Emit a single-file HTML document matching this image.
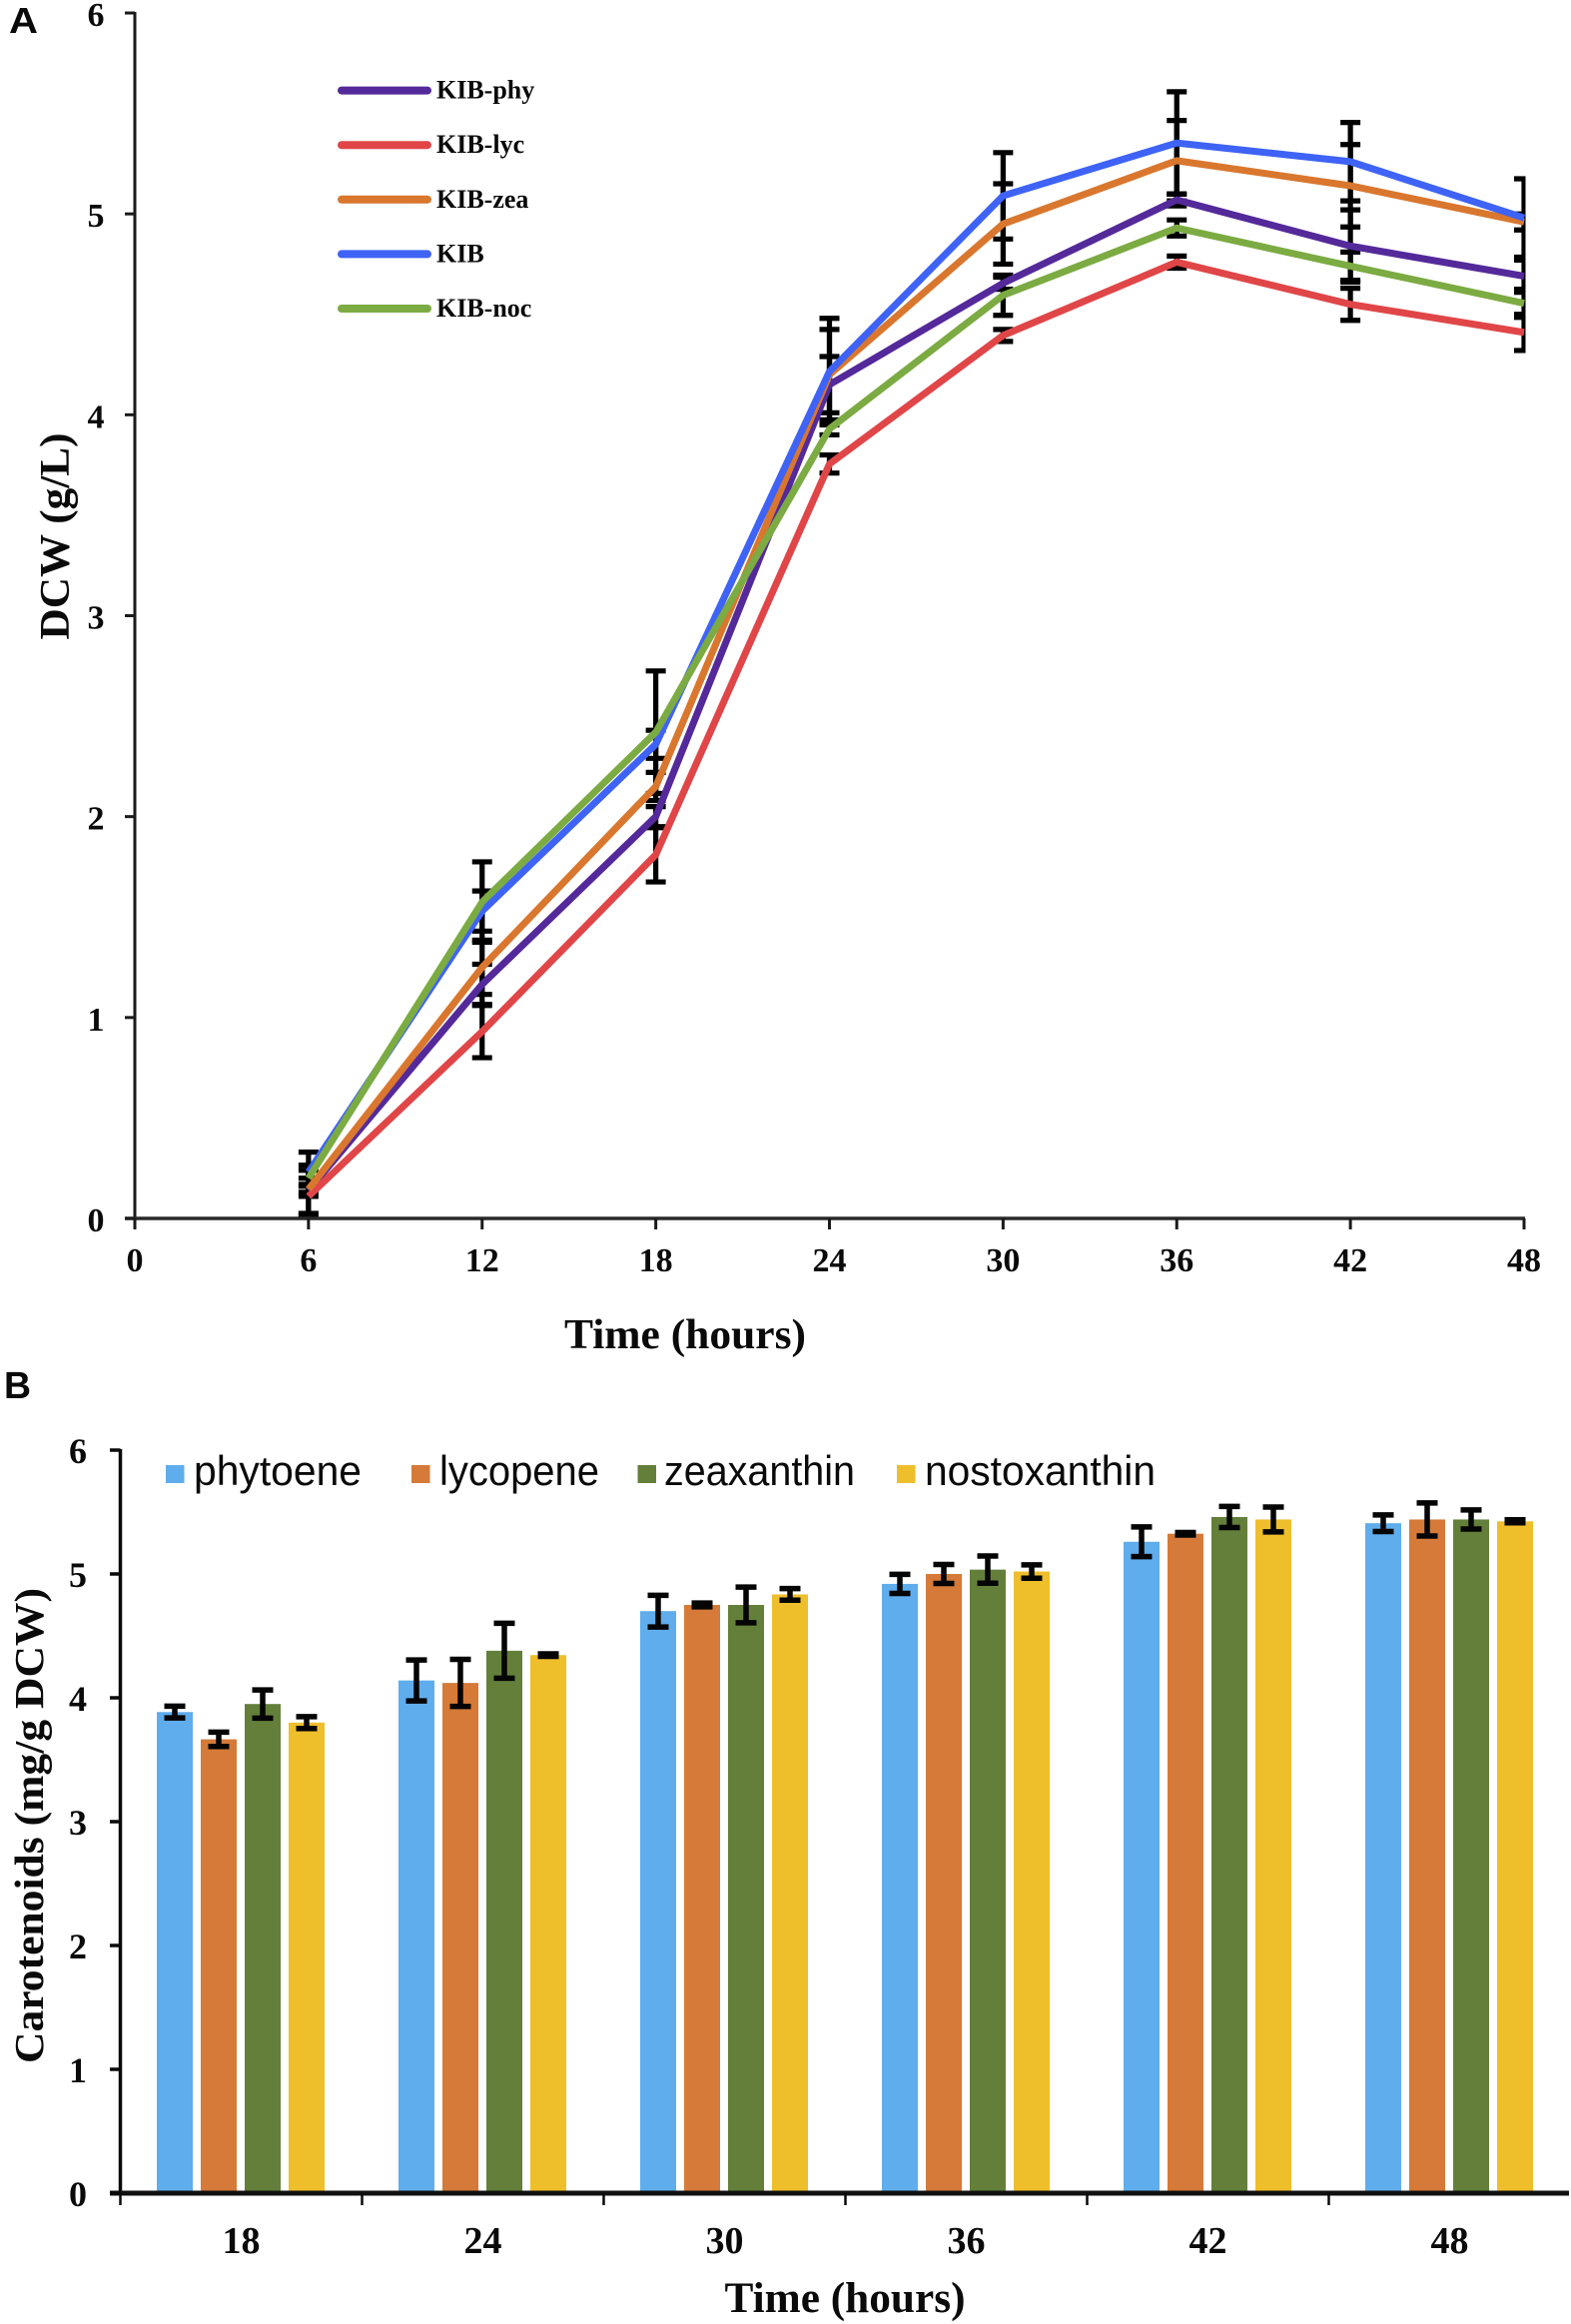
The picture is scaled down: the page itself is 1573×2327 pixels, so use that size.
<!DOCTYPE html>
<html lang="en">
<head>
<meta charset="utf-8">
<title>DCW growth and carotenoid content over time</title>
<style>
html,body{margin:0;padding:0;background:#fff;}
svg{display:block;}
.serif{font-family:"Liberation Serif",serif;font-weight:bold;fill:#0a0a0a;}
.sans{font-family:"Liberation Sans",sans-serif;fill:#0a0a0a;}
</style>
</head>
<body>
<svg id="figure" xmlns="http://www.w3.org/2000/svg" width="1573" height="2327" viewBox="0 0 1573 2327">
  <rect x="0" y="0" width="1573" height="2327" fill="#ffffff"/>
  <defs>
    <clipPath id="plot-a-clip"><rect x="0" y="0" width="1527.5" height="1300"/></clipPath>
  </defs>
  <text class="sans" font-weight="bold" font-size="36" x="9" y="33" textLength="29" lengthAdjust="spacingAndGlyphs">A</text>
  <text class="sans" font-weight="bold" font-size="38" x="4" y="1400" textLength="27" lengthAdjust="spacingAndGlyphs">B</text>

  <g id="chart-a">
    <g id="a-errors" clip-path="url(#plot-a-clip)"></g>
    <g id="a-lines" clip-path="url(#plot-a-clip)"></g>
    <g id="a-axes"></g>
    <g id="a-legend"></g>
    <text class="serif" font-size="42" x="686" y="1350" text-anchor="middle" textLength="242" lengthAdjust="spacingAndGlyphs">Time (hours)</text>
    <text class="serif" font-size="42" text-anchor="middle" transform="translate(69 537) rotate(-90)" textLength="207" lengthAdjust="spacingAndGlyphs">DCW (g/L)</text>
  </g>

  <g id="chart-b">
    <g id="b-bars"></g>
    <g id="b-errors"></g>
    <g id="b-axes"></g>
    <g id="b-legend"></g>
    <text class="serif" font-size="43" x="846" y="2315" text-anchor="middle" textLength="241" lengthAdjust="spacingAndGlyphs">Time (hours)</text>
    <text class="serif" font-size="41" text-anchor="middle" transform="translate(43 1828) rotate(-90)" textLength="476" lengthAdjust="spacingAndGlyphs">Carotenoids (mg/g DCW)</text>
  </g>
</svg>

<script>
// Panel A data
const hoursA = [6, 12, 18, 24, 30, 36, 42, 48];
const xTicksA = [0, 6, 12, 18, 24, 30, 36, 42, 48];
const yTicksA = [0, 1, 2, 3, 4, 5, 6];
const namesA = ['KIB-phy', 'KIB-lyc', 'KIB-zea', 'KIB', 'KIB-noc'];
const kibPhy = [0.14, 1.165, 2.00, 4.15, 4.655, 5.07, 4.84, 4.69];
const kibLyc = [0.11, 0.93, 1.81, 3.755, 4.395, 4.76, 4.55, 4.41];
const kibZea = [0.145, 1.25, 2.15, 4.20, 4.95, 5.265, 5.14, 4.96];
const kibWt = [0.23, 1.53, 2.36, 4.215, 5.09, 5.353, 5.26, 4.98];
const kibNoc = [0.20, 1.575, 2.42, 3.93, 4.595, 4.93, 4.74, 4.555];
const kibPhyErr = [0.03, 0.10, 0.05, 0.14, 0.03, 0.03, 0.18, 0.08];
const kibLycErr = [0.09, 0.13, 0.135, 0.045, 0.03, 0.03, 0.08, 0.09];
const kibZeaErr = [0.12, 0.135, 0.07, 0.225, 0.20, 0.20, 0.205, 0.04];
const kibWtErr = [0.10, 0.10, 0.07, 0.265, 0.215, 0.255, 0.195, 0.195];
const kibNocErr = [0.04, 0.20, 0.305, 0.03, 0.10, 0.04, 0.07, 0.07];

// Panel B data
const hoursB = [18, 24, 30, 36, 42, 48];
const yTicksB = [0, 1, 2, 3, 4, 5, 6];
const namesB = ['phytoene', 'lycopene', 'zeaxanthin', 'nostoxanthin'];
const phytoene = [3.885, 4.14, 4.70, 4.92, 5.26, 5.41];
const lycopene = [3.665, 4.12, 4.75, 5.00, 5.325, 5.44];
const zeaxanthin = [3.95, 4.38, 4.75, 5.035, 5.46, 5.44];
const nostoxanthin = [3.80, 4.345, 4.835, 5.02, 5.44, 5.425];
const phytoeneErr = [0.047, 0.165, 0.128, 0.077, 0.12, 0.067];
const lycopeneErr = [0.058, 0.19, 0.015, 0.077, 0.01, 0.134];
const zeaxanthinErr = [0.114, 0.222, 0.144, 0.11, 0.085, 0.077];
const nostoxanthinErr = [0.048, 0.01, 0.047, 0.054, 0.1, 0.012];

const NS = 'http://www.w3.org/2000/svg';
function mk(tag, parent) {
  const el = document.createElementNS(NS, tag);
  parent.appendChild(el);
  return el;
}
function put(el, props) {
  for (const k in props) el.setAttribute(k, props[k]);
}
function slug(s) {
  return String(s).toLowerCase().replace(/[^a-z0-9]+/g, '-');
}

/* ---------- Panel A ---------- */
const xA = t => 135 + (t / 48) * 1391;
const yA = v => 1220 - (v / 6) * 1207;
const valuesA = [kibPhy, kibLyc, kibZea, kibWt, kibNoc];
const errorsA = [kibPhyErr, kibLycErr, kibZeaErr, kibWtErr, kibNocErr];
const colorsA = ['#54299a', '#e04648', '#d9772e', '#3e63f6', '#7bab42'];

const aErrors = document.getElementById('a-errors');
const aLines = document.getElementById('a-lines');
const aAxes = document.getElementById('a-axes');
const aLegend = document.getElementById('a-legend');

namesA.forEach((name, s) => {
  hoursA.forEach((t, i) => {
    const px = xA(t);
    const hi = yA(valuesA[s][i] + errorsA[s][i]);
    const lo = yA(valuesA[s][i] - errorsA[s][i]);
    const eb = mk('path', aErrors);
    
    
    put(eb, {
      d: 'M' + px + ' ' + hi + 'V' + lo + 'M' + (px - 10) + ' ' + hi + 'H' + (px + 10) + 'M' + (px - 10) + ' ' + lo + 'H' + (px + 10),
      stroke: '#000', 'stroke-width': 5.2, fill: 'none'
    });
  });
});

namesA.forEach((name, s) => {
  const d = hoursA.map((t, i) => (i ? 'L' : 'M') + xA(t) + ' ' + yA(valuesA[s][i])).join('');
  const ln = mk('path', aLines);
  
  
  put(ln, { d: d, stroke: colorsA[s], 'stroke-width': 7, fill: 'none', 'stroke-linejoin': 'miter' });
});

const yAxisA = mk('line', aAxes);


put(yAxisA, { x1: xA(0), x2: xA(0), y1: yA(6) - 1, y2: yA(0) + 1, stroke: '#1a1a1a', 'stroke-width': 3 });

const xAxisA = mk('line', aAxes);


put(xAxisA, { x1: xA(0) - 10, x2: xA(48) + 1, y1: yA(0), y2: yA(0), stroke: '#2a2a2a', 'stroke-width': 3.5 });

yTicksA.forEach(v => {
  const tk = mk('line', aAxes);
  
  
  put(tk, { x1: xA(0) - 10, x2: xA(0), y1: yA(v), y2: yA(v), stroke: '#1a1a1a', 'stroke-width': 3 });
  const lb = mk('text', aAxes);
  
  
  put(lb, { x: 96, y: yA(v) + 13, 'text-anchor': 'middle', 'font-size': 34, class: 'serif' });
  lb.textContent = v;
});

xTicksA.forEach(t => {
  const tk = mk('line', aAxes);
  
  
  put(tk, { x1: xA(t), x2: xA(t), y1: yA(0), y2: yA(0) + 11, stroke: '#1a1a1a', 'stroke-width': 3 });
  const lb = mk('text', aAxes);
  
  
  put(lb, { x: xA(t), y: 1273, 'text-anchor': 'middle', 'font-size': 34, class: 'serif' });
  lb.textContent = t;
});

namesA.forEach((name, s) => {
  const rowY = 90.6 + s * 54.6;
  const key = mk('line', aLegend);
  
  
  put(key, { x1: 342, x2: 428, y1: rowY, y2: rowY, stroke: colorsA[s], 'stroke-width': 8, 'stroke-linecap': 'round' });
  const lb = mk('text', aLegend);
  
  
  put(lb, { x: 437, y: rowY + 8, 'font-size': 26, class: 'serif' });
  lb.textContent = name;
});

/* ---------- Panel B ---------- */
const groupWidthB = 242;
const xB = i => 120.5 + groupWidthB * (i + 0.5);
const yB = v => 2196 - v * 124;
const valuesB = [phytoene, lycopene, zeaxanthin, nostoxanthin];
const errorsB = [phytoeneErr, lycopeneErr, zeaxanthinErr, nostoxanthinErr];
const colorsB = ['#5fadec', '#d57a38', '#647f3a', '#efbe2b'];
const barStep = 44;
const barW = 36;
const legendSwatchX = [166, 412, 638.5, 898];
const legendTextX = [194, 440, 665, 926];
const legendTextW = [168, 160, 191, 231];

const bBars = document.getElementById('b-bars');
const bErrors = document.getElementById('b-errors');
const bAxes = document.getElementById('b-axes');
const bLegend = document.getElementById('b-legend');

namesB.forEach((name, s) => {
  hoursB.forEach((h, i) => {
    const cx = xB(i) + (s - 1.5) * barStep - 0.5;
    const top = yB(valuesB[s][i]);
    const bar = mk('rect', bBars);
    
    
    put(bar, { x: cx - barW / 2, y: top, width: barW, height: yB(0) - top, fill: colorsB[s] });

    const hi = yB(valuesB[s][i] + errorsB[s][i]);
    const lo = yB(valuesB[s][i] - errorsB[s][i]);
    const eb = mk('path', bErrors);
    
    
    put(eb, {
      d: 'M' + cx + ' ' + hi + 'V' + lo + 'M' + (cx - 10.5) + ' ' + hi + 'H' + (cx + 10.5) + 'M' + (cx - 10.5) + ' ' + lo + 'H' + (cx + 10.5),
      stroke: '#050505', 'stroke-width': 5.5, fill: 'none'
    });
  });
});

const yAxisB = mk('line', bAxes);


put(yAxisB, { x1: 120.5, x2: 120.5, y1: yB(6) - 1, y2: yB(0), stroke: '#0a0a0a', 'stroke-width': 3.5 });

const xAxisB = mk('line', bAxes);


put(xAxisB, { x1: 110, x2: 1571, y1: yB(0), y2: yB(0), stroke: '#111', 'stroke-width': 5 });

yTicksB.forEach(v => {
  const tk = mk('line', bAxes);
  
  
  put(tk, { x1: 110, x2: 120.5, y1: yB(v), y2: yB(v), stroke: '#0a0a0a', 'stroke-width': 3.5 });
  const lb = mk('text', bAxes);
  
  
  put(lb, { x: 78, y: yB(v) + 13, 'text-anchor': 'middle', 'font-size': 36, class: 'serif' });
  lb.textContent = v;
});

hoursB.forEach((h, i) => {
  const tk = mk('line', bAxes);
  
  
  put(tk, { x1: xB(i) - groupWidthB / 2, x2: xB(i) - groupWidthB / 2, y1: yB(0), y2: yB(0) + 12, stroke: '#0a0a0a', 'stroke-width': 2.5 });
  const lb = mk('text', bAxes);
  
  
  put(lb, { x: xB(i), y: 2256, 'text-anchor': 'middle', 'font-size': 38, class: 'serif' });
  lb.textContent = h;
});

namesB.forEach((name, s) => {
  const sw = mk('rect', bLegend);
  
  
  put(sw, { x: legendSwatchX[s], y: 1467, width: 18.5, height: 18, fill: colorsB[s] });
  const lb = mk('text', bLegend);
  
  
  put(lb, { x: legendTextX[s], y: 1487, 'font-size': 42, class: 'sans', textLength: legendTextW[s], lengthAdjust: 'spacingAndGlyphs' });
  lb.textContent = name;
});
</script>
</body>
</html>
